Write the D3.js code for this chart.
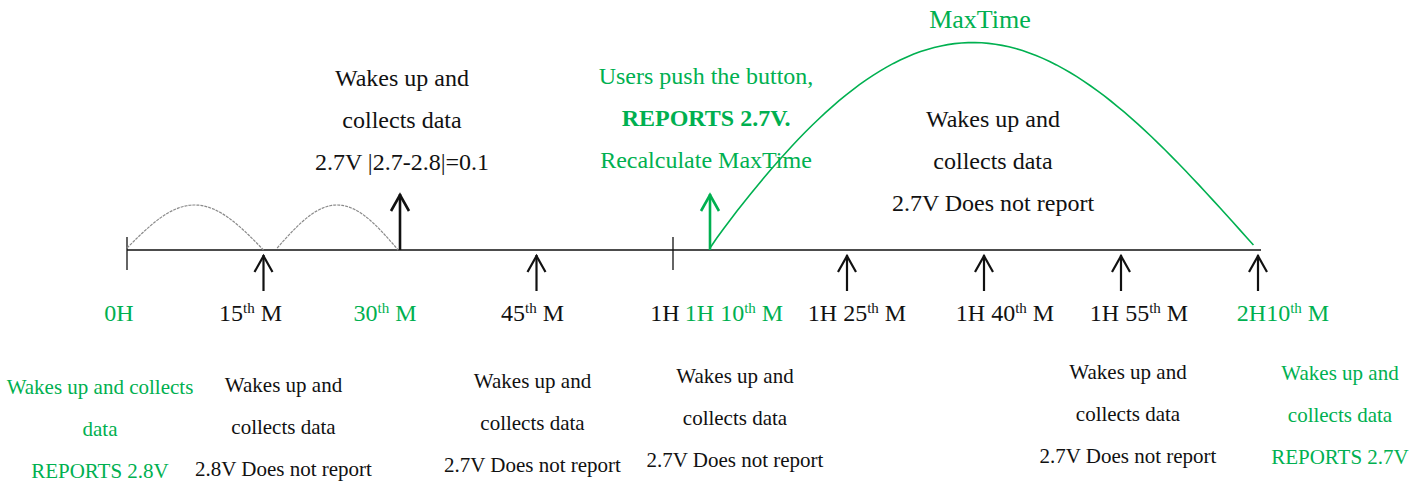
<!DOCTYPE html>
<html lang="en">
<head>
<meta charset="UTF-8">
<title>Sensor reporting timeline</title>
<style>
    body {
        margin: 0;
        background: #fff;
    }
    svg text {
        font-family: "Liberation Serif", "Times New Roman", serif;
        font-size: 21px;
    }
    svg text.big {
        font-size: 24px;
    }
</style>
</head>
<body>
<div id="chart"></div>
<script src="https://d3js.org/d3.v7.min.js"></script>
<script>
    // timeline data, minutes from start
    const tickMinutes = [0, 60];
    const arrowsBelow = [15, 45, 85, 100, 115, 130];
    const arrowsAbove = [30, 70];
    const arrowsAboveGreen = [false, true];
    const grayArcs = [[0, 15], [16.5, 29.8]];
    const maxTimeArc = [70, 129.5];

    const labelMinutes = [0, 15, 30, 45, 60, 70, 85, 100, 115, 130];
    const labelText = ["0H", "15", "30", "45", "1H", "1H 10", "1H 25", "1H 40", "1H 55", "2H10"];
    const labelSup = ["", "th", "th", "th", "", "th", "th", "th", "th", "th"];
    const labelGreen = [true, false, true, false, false, true, false, false, false, true];

    const bottomNoteMinutes = [0, 15, 45, 70, 115, 130];
    const bottomNoteLines = [
        ["Wakes up and collects", "data", "REPORTS 2.8V"],
        ["Wakes up and", "collects data", "2.8V Does not report"],
        ["Wakes up and", "collects data", "2.7V Does not report"],
        ["Wakes up and", "collects data", "2.7V Does not report"],
        ["Wakes up and", "collects data", "2.7V Does not report"],
        ["Wakes up and", "collects data", "REPORTS 2.7V"]
    ];
    const bottomNoteGreen = [true, false, false, false, false, true];

    const topNoteMinutes = [30, 70, 100];
    const topNoteLines = [
        ["Wakes up and", "collects data", "2.7V |2.7-2.8|=0.1"],
        ["Users push the button,", "REPORTS 2.7V.", "Recalculate MaxTime"],
        ["Wakes up and", "collects data", "2.7V Does not report"]
    ];
    const topNoteGreen = [false, true, false];
    const maxTimeTitle = "MaxTime";

    const green = "#00b050";
    const width = 1425, height = 482;
    const axisY = 250;

    const svg = d3.select("#chart").append("svg")
        .attr("width", width)
        .attr("height", height);

    // the 1H -> 1H10 stretch is squeezed in the drawing
    const x = d3.scaleLinear()
        .domain([0, 60, 70, 130])
        .range([127, 673, 710, 1258]);

    // main line
    svg.append("line")
        .attr("x1", x(0)).attr("x2", x(130) + 3)
        .attr("y1", axisY).attr("y2", axisY)
        .attr("stroke", "#111").attr("stroke-width", 1.6);

    svg.selectAll(".tick").data(tickMinutes).enter().append("line")
        .attr("x1", d => x(d)).attr("x2", d => x(d))
        .attr("y1", axisY - 13).attr("y2", axisY + 20)
        .attr("stroke", "#111").attr("stroke-width", 1.3);

    // arcs
    const arcLine = d3.line().x(p => p[0]).y(p => p[1]);
    function arcPoints(a, b, h, y0, y1, skew) {
        return d3.range(0, 81).map(i => {
            const t = i / 80;
            // skew moves the top a bit to the left
            const s = Math.pow(t, skew);
            return [x(a) + (x(b) - x(a)) * t, y0 + (y1 - y0) * t - h * Math.sin(Math.PI * s)];
        });
    }
    svg.selectAll(".grayArc").data(grayArcs).enter().append("path")
        .attr("d", d => arcLine(arcPoints(d[0], d[1], 44, axisY - 2, axisY, 1)))
        .attr("fill", "none").attr("stroke", "#8a8a8a").attr("stroke-width", 1.2)
        .attr("stroke-dasharray", "3,1");

    svg.append("path")
        .attr("d", arcLine(arcPoints(maxTimeArc[0], maxTimeArc[1], 204, axisY - 2, axisY - 5, 0.95)))
        .attr("fill", "none").attr("stroke", green).attr("stroke-width", 1.6);

    // arrows
    function arrow(g, cx, top, bottom, color, w) {
        g.append("line").attr("x1", cx).attr("x2", cx).attr("y1", top).attr("y2", bottom)
            .attr("stroke", color).attr("stroke-width", w);
        g.append("path")
            .attr("d", `M${cx - 9},${top + 17}L${cx},${top + 1}L${cx + 9},${top + 17}`)
            .attr("fill", "none").attr("stroke", color).attr("stroke-width", w);
    }
    arrowsBelow.forEach(m => arrow(svg, x(m), axisY + 5, axisY + 41, "#111", 2.2));
    arrowsAbove.forEach((m, i) => arrow(svg, x(m), axisY - 56, axisY, arrowsAboveGreen[i] ? green : "#111", 2.6));

    // time labels
    const labelShift = [-8, -13, -15, -4, -8, 24, 10, 21, 18, 25];
    labelMinutes.forEach((m, i) => {
        const t = svg.append("text")
            .attr("class", "big")
            .attr("x", x(m) + labelShift[i]).attr("y", 321)
            .attr("text-anchor", "middle")
            .attr("fill", labelGreen[i] ? green : "#111");
        t.append("tspan").text(labelText[i]);
        if (labelSup[i]) {
            t.append("tspan").attr("dy", -8).attr("font-size", "15px").text(labelSup[i]);
            t.append("tspan").attr("dy", 8).text(" M");
        }
    });

    // note blocks
    function note(cx, y, lines, color, boldLine, cls) {
        lines.forEach((s, j) => {
            svg.append("text")
                .attr("class", cls)
                .attr("x", cx).attr("y", y + j * 42)
                .attr("text-anchor", "middle")
                .attr("fill", color)
                .attr("font-weight", j === boldLine ? "bold" : "normal")
                .text(s);
        });
    }
    const bottomShift = [-27, 20, -4, 25, 7, 82];
    const bottomY = [394, 392, 388, 383, 379, 380];
    bottomNoteMinutes.forEach((m, i) =>
        note(x(m) + bottomShift[i], bottomY[i], bottomNoteLines[i], bottomNoteGreen[i] ? green : "#111", -1, ""));

    const topShift = [2, -4, 9];
    const topY = [86, 84, 127];
    topNoteMinutes.forEach((m, i) =>
        note(x(m) + topShift[i], topY[i], topNoteLines[i], topNoteGreen[i] ? green : "#111", topNoteGreen[i] ? 1 : -1, "big"));

    svg.append("text")
        .attr("x", 980).attr("y", 28)
        .attr("text-anchor", "middle")
        .attr("fill", green)
        .style("font-size", "26px")
        .text(maxTimeTitle);
</script>
</body>
</html>
